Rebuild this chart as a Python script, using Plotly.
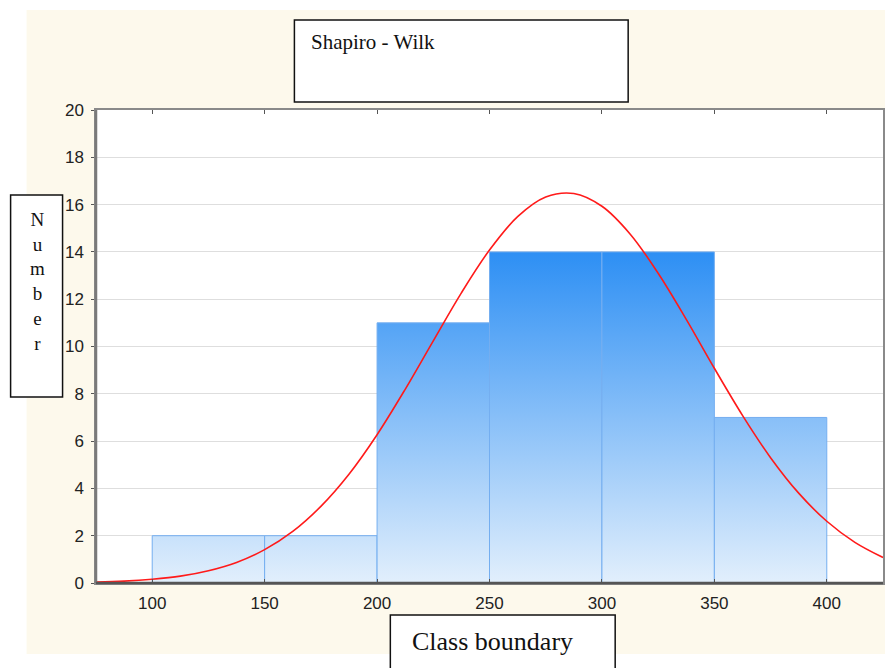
import plotly.graph_objects as go

# ---- data ----
bin_edges = [100, 150, 200, 250, 300, 350, 400]
counts = [2, 2, 11, 14, 14, 7]
curve_x = [75, 87.5, 100, 112.5, 125, 137.5, 150, 162.5, 175, 187.5, 200, 212.5,
           225, 237.5, 250, 262.5, 275, 287.5, 300, 312.5, 325, 337.5, 350,
           362.5, 375, 387.5, 400, 412.5, 425]
curve_y = [0.04, 0.08, 0.16, 0.29, 0.52, 0.87, 1.41, 2.18, 3.24, 4.60, 6.27, 8.19,
           10.24, 12.27, 14.08, 15.49, 16.32, 16.47, 15.93, 14.76, 13.10, 11.15, 9.08,
           7.09, 5.30, 3.80, 2.61, 1.72, 1.08]
y_ticks = list(range(0, 21, 2))
x_ticks = [100, 150, 200, 250, 300, 350, 400]

# horizontal compensation factor for the capture
SX = 890 / 885
W, H = round(885 * SX), 668
L, R, T, B = round(95 * SX), round(2 * SX), 110, 85
PW, PH = W - L - R, H - T - B


def px(x):
    return (x * SX - L) / PW


def py(y):
    return (H - B - y) / PH


fig = go.Figure()

for i, c in enumerate(counts):
    x0, x1 = bin_edges[i], bin_edges[i + 1]
    fig.add_trace(go.Scatter(
        x=[x0, x0, x1, x1, x0], y=[0, c, c, 0, 0],
        mode="lines", fill="toself",
        line=dict(color="#74aef0", width=1),
        fillgradient=dict(type="vertical", start=0, stop=14,
                          colorscale=[[0, "#e2effc"], [1, "#2d8ff4"]]),
        hoverinfo="skip", showlegend=False,
    ))

fig.add_trace(go.Scatter(
    x=curve_x, y=curve_y, mode="lines",
    line=dict(color="#ff1a1a", width=1.6, shape="spline"),
    showlegend=False,
))

serif = "Liberation Serif, Times New Roman, serif"
sans = "Liberation Sans, Arial, Helvetica, sans-serif"

xb0, xb1, yb0, yb1 = px(390), px(615), py(668), py(615)
class_box_path = f"M {xb0},{yb0} L {xb0},{yb1} L {xb1},{yb1} L {xb1},{yb0}"

shapes = [
    dict(type="rect", xref="paper", yref="paper", layer="below",
         x0=px(26), x1=px(885), y0=py(654), y1=py(10),
         fillcolor="#fdf9ec", line=dict(width=0)),
    dict(type="rect", xref="paper", yref="paper", layer="below",
         x0=0, x1=1, y0=0, y1=1,
         fillcolor="white", line=dict(width=0)),
    dict(type="rect", xref="paper", yref="paper",
         x0=px(294), x1=px(628), y0=py(102), y1=py(20),
         fillcolor="white", line=dict(color="#111", width=1.5), layer="above"),
    dict(type="rect", xref="paper", yref="paper",
         x0=px(10), x1=px(62), y0=py(397), y1=py(195),
         fillcolor="white", line=dict(color="#111", width=1.5), layer="above"),
    dict(type="path", xref="paper", yref="paper", path=class_box_path,
         fillcolor="white", line=dict(color="#111", width=1.5), layer="above"),
    dict(type="line", xref="paper", yref="paper", x0=0, x1=0, y0=0, y1=1,
         line=dict(color="#7a7a7a", width=2.5)),
    dict(type="line", xref="paper", yref="paper", x0=0, x1=1, y0=0, y1=0,
         line=dict(color="#555555", width=2.5)),
]

annotations = [
    dict(text="Shapiro - Wilk", xref="paper", yref="paper",
         x=px(309), y=py(42), xanchor="left", yanchor="middle",
         showarrow=False, font=dict(family=serif, size=21, color="#111")),
    dict(text="N<br>u<br>m<br>b<br>e<br>r", xref="paper", yref="paper",
         x=px(37), y=py(281), xanchor="center", yanchor="middle",
         showarrow=False, font=dict(family=serif, size=19, color="#111")),
    dict(text="Class boundary", xref="paper", yref="paper",
         x=px(492), y=py(641), xanchor="center", yanchor="middle",
         showarrow=False, font=dict(family=serif, size=26, color="#111")),
]

fig.update_layout(
    width=W, height=H,
    margin=dict(l=L, r=R, t=T, b=B, pad=0),
    paper_bgcolor="white", plot_bgcolor="white",
    shapes=shapes, annotations=annotations,
    showlegend=False,
    xaxis=dict(range=[75, 425], tickvals=x_ticks, ticks="inside", ticklen=4,
               tickcolor="#555", showgrid=False, zeroline=False,
               showline=True, linecolor="#8a8a8a", linewidth=1.5, mirror="ticks",
               tickfont=dict(family=sans, size=17, color="#222"),
               ticklabelstandoff=4),
    yaxis=dict(range=[0, 20], tickvals=y_ticks, ticks="outside", ticklen=3,
               tickcolor="#555", showgrid=True, gridcolor="#dedede", gridwidth=1,
               zeroline=False, showline=True, linecolor="#8a8a8a", linewidth=1.5,
               mirror="ticks", tickfont=dict(family=sans, size=17, color="#222"),
               ticklabelstandoff=4),
)

fig.write_html(
    "out.html",
    config={"displayModeBar": False, "responsive": False},
    post_script=("document.documentElement.style.overflow='hidden';"
                 "document.body.style.overflow='hidden';"
                 "document.body.style.margin='0px';"),
)
